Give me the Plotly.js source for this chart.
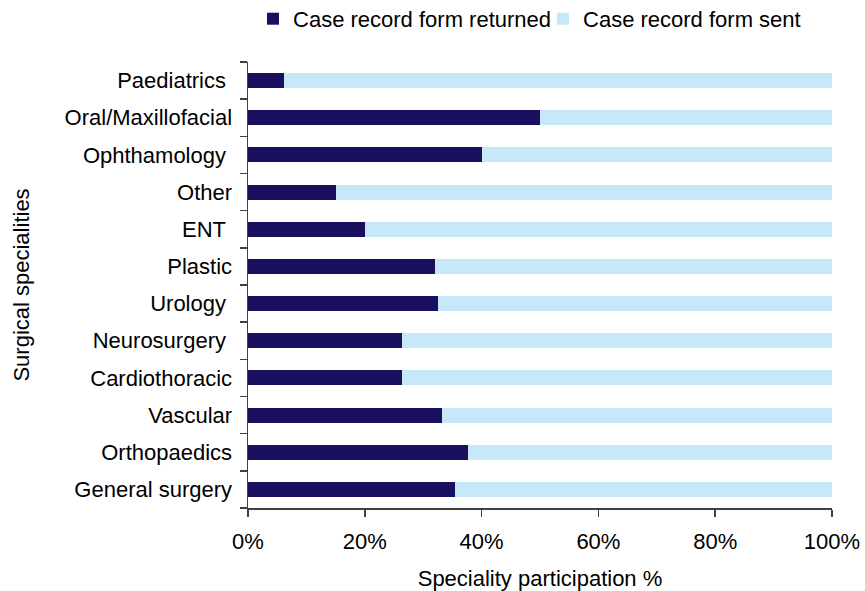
<!DOCTYPE html>
<html>
<head>
<meta charset="utf-8">
<script src="https://cdn.plot.ly/plotly-3.0.1.min.js"></script>
<style>
  html, body { margin: 0; padding: 0; background: #ffffff; }
  #chart { width: 865px; height: 591px; }
</style>
</head>
<body>
<div id="chart"></div>
<script>
// Categories listed bottom to top
const categories = [
  "General surgery", "Orthopaedics", "Vascular", "Cardiothoracic",
  "Neurosurgery\u00A0", "Urology\u00A0", "Plastic", "ENT\u00A0",
  "Other", "Ophthamology\u00A0", "Oral/Maxillofacial", "Paediatrics\u00A0"
];
// Percent of forms returned per speciality
const returnedPct = [35.5, 37.7, 33.3, 26.3, 26.4, 32.6, 32.0, 20.0, 15.0, 40.0, 50.0, 6.2];
// Remaining share (sent but not returned) completes the 100% stack
const sentPct = returnedPct.map(v => 100 - v);
const seriesNames = ["Case record form returned", "Case record form sent"];
const xTickVals = [0, 20, 40, 60, 80, 100];
const xTickText = ["0%", "20%", "40%", "60%", "80%", "100%"];

const FONT = "Arial, 'Liberation Sans', sans-serif";
const FS = 22;

const traces = [
  {
    type: "bar", orientation: "h",
    y: categories, x: returnedPct, name: seriesNames[0],
    marker: { color: "#1a1060" }, hoverinfo: "x+y"
  },
  {
    type: "bar", orientation: "h",
    y: categories, x: sentPct, name: seriesNames[1],
    marker: { color: "#c6e8f8" }, hoverinfo: "x+y"
  }
];

const layout = {
  width: 865, height: 591,
  margin: { l: 248, r: 33, t: 62, b: 83, pad: 0, autoexpand: false },
  paper_bgcolor: "#ffffff", plot_bgcolor: "#ffffff",
  barmode: "stack",
  bargap: 0.6,
  font: { family: FONT, size: FS, color: "#000000" },
  showlegend: true,
  legend: {
    orientation: "h", xref: "container", yref: "container",
    x: 0.2925, xanchor: "left", y: 0.968, yanchor: "middle",
    traceorder: "normal", font: { family: FONT, size: FS, color: "#000000" },
    itemwidth: 30, entrywidth: 245, entrywidthmode: "pixels",
    bgcolor: "rgba(0,0,0,0)"
  },
  xaxis: {
    range: [0, 100], tickvals: xTickVals, ticktext: xTickText,
    showgrid: false, zeroline: false, showline: true,
    linecolor: "#404040", linewidth: 1.5,
    ticks: "outside", ticklen: 7, tickcolor: "#404040", tickwidth: 1.5,
    tickfont: { family: FONT, size: FS, color: "#000000" },
    ticklabelstandoff: 6,
    automargin: false,
    title: { text: "Speciality participation %", font: { family: FONT, size: FS, color: "#000000" }, standoff: 18 },
    fixedrange: true
  },
  yaxis: {
    type: "category", categoryorder: "array", categoryarray: categories,
    showgrid: false, zeroline: false, showline: true,
    linecolor: "#404040", linewidth: 1.5,
    ticks: "outside", ticklen: 7, tickcolor: "#404040", tickwidth: 1.5,
    tickson: "boundaries",
    tickfont: { family: FONT, size: FS, color: "#000000" },
    ticklabelstandoff: 10,
    automargin: false,
    title: { text: "Surgical specialities", font: { family: FONT, size: FS, color: "#000000" }, standoff: 29 },
    fixedrange: true
  }
};

Plotly.newPlot("chart", traces, layout, { displayModeBar: false, staticPlot: true });
</script>
</body>
</html>
